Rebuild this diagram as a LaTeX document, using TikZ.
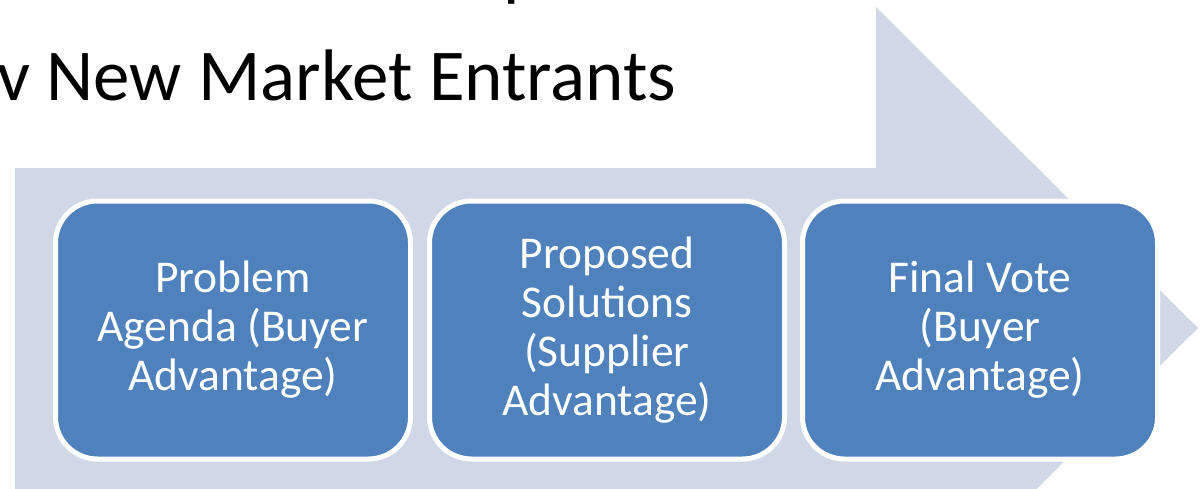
\documentclass[tikz,border=0pt]{standalone}
\usepackage{fontspec}
\setmainfont{Carlito}
\definecolor{stageblue}{HTML}{4F81BD}
\definecolor{arrowgrey}{HTML}{D0D8E8}
\tikzset{
  arrowbg/.style={fill=arrowgrey, draw=none},
  stagebox/.style={rectangle, rounded corners=42pt, fill=stageblue, draw=white,
    line width=5pt, minimum width=355pt, minimum height=258pt, inner sep=0pt,
    align=center, text=white, font=\fontsize{45.5}{49}\selectfont},
  titletext/.style={anchor=base west, inner sep=0pt, text=black,
    font=\fontsize{73}{80}\selectfont}
}
\begin{document}
\begin{tikzpicture}[x=1pt,y=-1pt]
  \useasboundingbox (0,0) rectangle (1204,488);
  \clip (0,0) rectangle (1204,488);
  % background arrow
  \fill[arrowbg] (15,168) -- (876,168) -- (876,7) -- (1198,328) -- (876,649)
     -- (876,495) -- (15,495) -- cycle;
  % partially visible title lines
  \node[titletext] (titletop) at (503,-8) {p};
  \node[titletext] (title) at (-3,100) {v New Market Entrants};
  % stages
  \node[stagebox] (s1) at (233,330) {Problem\\Agenda (Buyer\\Advantage)};
  \node[stagebox] (s2) at (607,330) {Proposed\\Solutions\\(Supplier\\Advantage)};
  \node[stagebox] (s3) at (980,330) {Final Vote\\(Buyer\\Advantage)};
\end{tikzpicture}
\end{document}
